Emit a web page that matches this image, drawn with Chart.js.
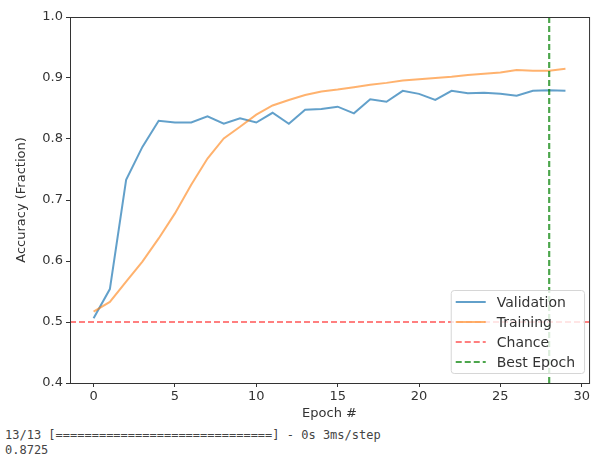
<!DOCTYPE html>
<html>
<head>
<meta charset="utf-8">
<script src="https://cdn.jsdelivr.net/npm/chart.js"></script>
<style>
  html, body { margin: 0; padding: 0; background: #fff; }
  #wrap { position: relative; width: 592px; height: 472px; overflow: hidden; }
  #chart { position: absolute; left: 0; top: 0; }
  #log { position: absolute; left: 5px; top: 428px; margin: 0;
         font: 12px "DejaVu Sans Mono", monospace; line-height: 15px; color: #444; }
</style>
</head>
<body>
<div id="wrap">
  <canvas id="chart" width="592" height="425"></canvas>
  <pre id="log">13/13 [==============================] - 0s 3ms/step
0.8725</pre>
</div>
<script>
// Datos
const epochs = [0, 1, 2, 3, 4, 5, 6, 7, 8, 9, 10, 11, 12, 13, 14, 15, 16, 17, 18, 19, 20, 21, 22, 23, 24, 25, 26, 27, 28, 29];
const validation = [0.506, 0.554, 0.733, 0.787, 0.830, 0.827, 0.827, 0.837, 0.825, 0.834, 0.827, 0.843, 0.825, 0.848, 0.849, 0.853, 0.842, 0.865, 0.861, 0.879, 0.874, 0.864, 0.879, 0.875, 0.876, 0.874, 0.871, 0.879, 0.880, 0.879];
const training = [0.517, 0.533, 0.566, 0.599, 0.637, 0.678, 0.725, 0.768, 0.801, 0.820, 0.840, 0.855, 0.864, 0.872, 0.878, 0.881, 0.885, 0.889, 0.892, 0.896, 0.898, 0.900, 0.902, 0.905, 0.907, 0.909, 0.913, 0.912, 0.912, 0.915];
const chanceLevel = 0.5;
const bestEpoch = 28;
const yTicks = [0.4, 0.5, 0.6, 0.7, 0.8, 0.9, 1.0];
const xTicks = [0, 5, 10, 15, 20, 25, 30];

const X_MIN = -1.45, X_MAX = 30.45, Y_MIN = 0.4, Y_MAX = 1.0;
const FONT = "'DejaVu Sans', sans-serif";
const TXT = '#333';

function pts(ys) { return epochs.map((e, i) => ({x: e, y: ys[i]})); }

// marco del eje (spines)
const framePlugin = {
  id: 'frame',
  afterDatasetsDraw(chart) {
    const {ctx, chartArea: a} = chart;
    ctx.save();
    ctx.strokeStyle = '#333';
    ctx.lineWidth = 1;
    ctx.strokeRect(a.left + 0.5, a.top + 0.5, a.right - a.left, a.bottom - a.top);
    ctx.restore();
  }
};

// leyenda estilo matplotlib, abajo a la derecha dentro del área
const legendPlugin = {
  id: 'mplLegend',
  afterDraw(chart) {
    const {ctx, chartArea: a} = chart;
    const sets = chart.data.datasets;
    ctx.save();
    ctx.font = '14px ' + FONT;
    const maxW = Math.max(...sets.map(d => ctx.measureText(d.label).width));
    const rowH = 20;
    const w = 46 + maxW + 9;
    const h = rowH * sets.length + 3;
    const x = a.right - 5 - w;
    const y = a.bottom - 10 - h;
    ctx.beginPath();
    ctx.roundRect(x + 0.5, y + 0.5, w, h, 3);
    ctx.fillStyle = 'rgba(255,255,255,0.8)';
    ctx.fill();
    ctx.strokeStyle = '#d6d6d6';
    ctx.lineWidth = 1;
    ctx.stroke();
    sets.forEach((d, i) => {
      const cy = y + 12 + i * rowH;
      ctx.beginPath();
      ctx.setLineDash(d.borderDash || []);
      ctx.strokeStyle = d.borderColor;
      ctx.lineWidth = d.borderWidth;
      ctx.moveTo(x + 5, cy);
      ctx.lineTo(x + 35, cy);
      ctx.stroke();
      ctx.setLineDash([]);
      ctx.fillStyle = TXT;
      ctx.textBaseline = 'middle';
      ctx.fillText(d.label, x + 46, cy + 1);
    });
    ctx.restore();
  }
};

new Chart(document.getElementById('chart').getContext('2d'), {
  type: 'line',
  data: {
    datasets: [
      {label: 'Validation', data: pts(validation), borderColor: 'rgba(31,119,180,0.7)', borderWidth: 2, order: 3},
      {label: 'Training', data: pts(training), borderColor: 'rgba(255,127,14,0.6)', borderWidth: 2, order: 2},
      {label: 'Chance', data: [{x: X_MIN, y: chanceLevel}, {x: X_MAX, y: chanceLevel}],
       borderColor: 'rgba(255,0,0,0.5)', borderWidth: 2.2, borderDash: [6, 3], order: 1},
      {label: 'Best Epoch', data: [{x: bestEpoch, y: Y_MIN}, {x: bestEpoch, y: Y_MAX}],
       borderColor: 'rgba(0,128,0,0.7)', borderWidth: 2.2, borderDash: [6, 3], order: 0}
    ]
  },
  options: {
    responsive: false,
    animation: false,
    events: [],
    layout: {autoPadding: false, padding: {top: 17, right: 0, bottom: 0, left: 0}},
    elements: {point: {radius: 0}, line: {tension: 0, fill: false}},
    plugins: {legend: {display: false}, tooltip: {enabled: false}},
    scales: {
      x: {
        type: 'linear', min: X_MIN, max: X_MAX,
        afterFit(s) { s.height = 42; },
        afterBuildTicks(s) { s.ticks = xTicks.map(v => ({value: v})); },
        ticks: {color: TXT, font: {family: FONT, size: 13}, padding: 2, maxRotation: 0},
        grid: {drawOnChartArea: false, drawTicks: true, tickLength: 4, color: '#333'},
        border: {display: false},
        title: {display: true, text: 'Epoch #', color: TXT, font: {family: FONT, size: 13}, padding: {top: 0, bottom: 4}}
      },
      y: {
        type: 'linear', min: Y_MIN, max: Y_MAX,
        afterFit(s) { s.width = 70; },
        afterBuildTicks(s) { s.ticks = yTicks.map(v => ({value: v})); },
        ticks: {color: TXT, font: {family: FONT, size: 13}, padding: 3, callback: v => v.toFixed(1)},
        grid: {drawOnChartArea: false, drawTicks: true, tickLength: 4, color: '#333'},
        border: {display: false},
        title: {display: true, text: 'Accuracy (Fraction)', color: TXT, font: {family: FONT, size: 13}, padding: {top: 14, bottom: 0}}
      }
    }
  },
  plugins: [framePlugin, legendPlugin]
});
</script>
</body>
</html>
